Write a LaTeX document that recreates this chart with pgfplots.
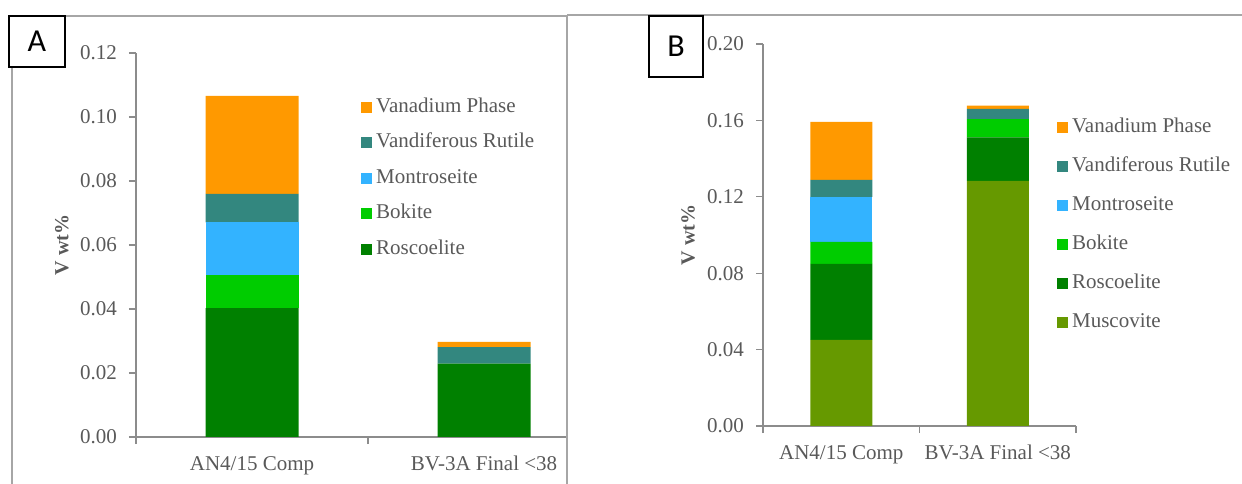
\documentclass[border=0pt]{standalone}
\usepackage{pgfplots}
\pgfplotsset{compat=1.18}
\usepackage{pgfplotstable}
\usepackage{fontspec}
\setmainfont{Liberation Serif}
\newfontfamily\carlito{Carlito}
\definecolor{cVan}{HTML}{FF9900}
\definecolor{cRut}{HTML}{33877F}
\definecolor{cMon}{HTML}{33B3FF}
\definecolor{cBok}{HTML}{00CC00}
\definecolor{cRos}{HTML}{008000}
\definecolor{cMus}{HTML}{669900}
\definecolor{axisgray}{HTML}{8C8C8C}
\definecolor{framegray}{HTML}{A6A6A6}
\definecolor{textgray}{HTML}{595959}

\pgfplotstableread{
x Rosc Bok Mont Rut Van
0 0.0403 0.0103 0.0165 0.0089 0.0306
1 0.0229 0 0 0.0052 0.0016
}\dataA
\pgfplotstableread{
x Musc Rosc Bok Mont Rut Van
0 0.0451 0.0398 0.0115 0.0236 0.0089 0.0303
1 0.1284 0.0227 0.0096 0 0.0053 0.0017
}\dataB

\newcommand\lblfont{\fontsize{21bp}{25bp}\selectfont}
\pgfplotsset{
  sq legend/.style={legend image code/.code={\fill[##1] (0bp,-5.5bp) rectangle (11bp,5.5bp);}},
  panel/.style={
    scale only axis,
    ybar stacked,
    xmin=-0.5, xmax=1.5, ymin=0,
    axis x line*=bottom, axis y line*=left,
    axis line style={draw=axisgray, line width=1.2bp},
    tick align=outside,
    major tick length=7bp, minor tick length=7bp,
    tick style={draw=axisgray, line width=1.2bp},
    xtick={0,1},
    xticklabels={AN4/15 Comp, BV-3A Final <38},
    major x tick style={draw=none},
    minor xtick={-0.5,0.5,1.5},
    minor x tick style={draw=axisgray, line width=1.2bp},
    ticklabel style={font=\lblfont, text=textgray},
    /pgf/number format/assume math mode=true,
    yticklabel style={/pgf/number format/fixed, /pgf/number format/fixed zerofill, /pgf/number format/precision=2},
    yticklabel style={inner sep=0pt, anchor=east, xshift=-12bp},
    xticklabel style={inner sep=0pt, anchor=base, yshift=-26bp},
    ylabel={V wt\%},
    ylabel style={font=\fontsize{20bp}{24bp}\selectfont\bfseries, text=textgray, anchor=center},
    reverse legend,
    legend cell align=left,
    legend style={anchor=north west, draw=none, fill=none, inner sep=0pt,
      font=\lblfont, text=textgray, column sep=4bp,
      nodes={inner sep=0pt, text height=14bp, text depth=4bp}},
    every axis plot/.append style={draw=none},
  }
}

\begin{document}
\begin{tikzpicture}
\useasboundingbox (0bp,0bp) rectangle (1242bp,484bp);
\begin{scope}
\clip (0bp,0bp) rectangle (567bp,484bp);
\begin{axis}[panel, at={(136bp,47bp)}, anchor=south west, width=464bp, height=384bp,
  ymax=0.12, ytick={0,0.02,0.04,0.06,0.08,0.1,0.12}, bar width=93bp,
  legend style={at={(0.4849,0.8828)}, row sep=17.5bp},
  ylabel style={at={(axis description cs:-0.1595,0.5)}}]
\addplot[fill=cRos, sq legend] table[x=x,y=Rosc]{\dataA};
\addlegendentry{Roscoelite}
\addplot[fill=cBok, sq legend] table[x=x,y=Bok]{\dataA};
\addlegendentry{Bokite}
\addplot[fill=cMon, sq legend] table[x=x,y=Mont]{\dataA};
\addlegendentry{Montroseite}
\addplot[fill=cRut, sq legend] table[x=x,y=Rut]{\dataA};
\addlegendentry{Vandiferous Rutile}
\addplot[fill=cVan, sq legend] table[x=x,y=Van]{\dataA};
\addlegendentry{Vanadium Phase}
\end{axis}
\end{scope}

\begin{axis}[panel, at={(763bp,58bp)}, anchor=south west, width=313bp, height=382bp,
  ymax=0.2, ytick={0,0.04,0.08,0.12,0.16,0.2}, bar width=62bp,
  legend style={at={(0.939,0.8045)}, row sep=21bp},
  ylabel style={at={(axis description cs:-0.2396,0.5)}}]
\addplot[fill=cMus, sq legend] table[x=x,y=Musc]{\dataB};
\addlegendentry{Muscovite}
\addplot[fill=cRos, sq legend] table[x=x,y=Rosc]{\dataB};
\addlegendentry{Roscoelite}
\addplot[fill=cBok, sq legend] table[x=x,y=Bok]{\dataB};
\addlegendentry{Bokite}
\addplot[fill=cMon, sq legend] table[x=x,y=Mont]{\dataB};
\addlegendentry{Montroseite}
\addplot[fill=cRut, sq legend] table[x=x,y=Rut]{\dataB};
\addlegendentry{Vandiferous Rutile}
\addplot[fill=cVan, sq legend] table[x=x,y=Van]{\dataB};
\addlegendentry{Vanadium Phase}
\end{axis}

% panel frames
\draw[framegray, line width=1.5bp] (12bp,0bp) -- (12bp,468bp) -- (567bp,468bp) -- (567bp,0bp);
\draw[framegray, line width=1.5bp] (567bp,469bp) -- (1242bp,469bp);
% panel letters
\draw[black, line width=1.4bp, fill=white] (9bp,417bp) rectangle (65bp,468bp);
\node[font=\carlito\fontsize{32bp}{36bp}\selectfont] at (37bp,442.5bp) {A};
\draw[black, line width=1.4bp, fill=white] (649bp,407bp) rectangle (703bp,468bp);
\node[font=\carlito\fontsize{32bp}{36bp}\selectfont] at (676bp,437.5bp) {B};
\end{tikzpicture}
\end{document}
